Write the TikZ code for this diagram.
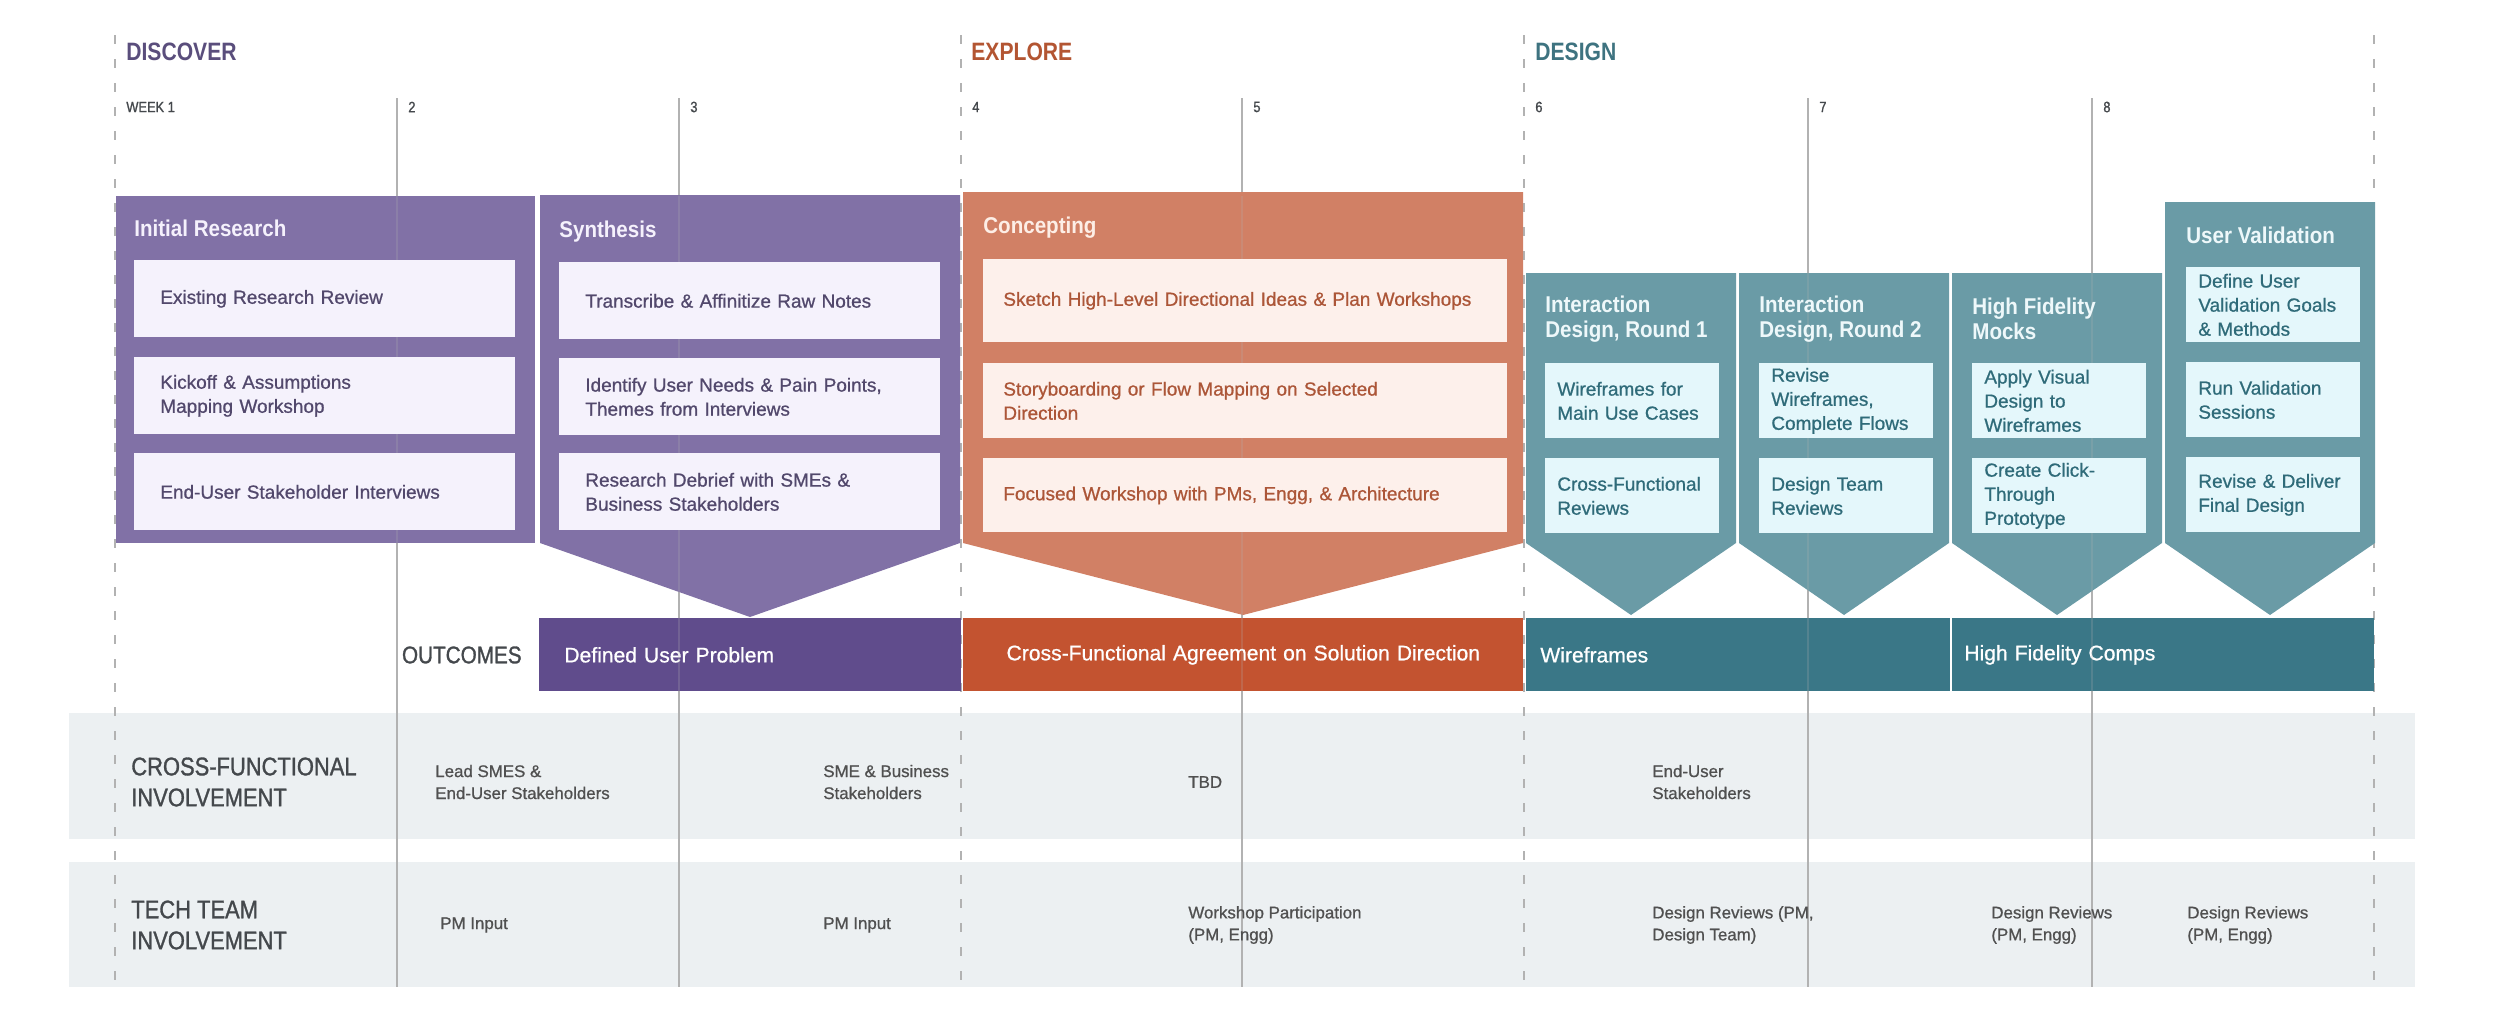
\documentclass[tikz,border=0pt]{standalone}
\usepackage{fontspec}
\setmainfont{Liberation Sans}
\newfontfamily\condfont[FakeStretch=0.86,FakeBold=1.2]{Liberation Sans}
\newfontfamily\headfont[FakeStretch=0.9]{Liberation Sans}
\newfontfamily\phasefont[FakeStretch=0.84]{Liberation Sans}
\newfontfamily\medfont[FakeBold=0.8]{Liberation Sans}
\usepackage{xcolor}
\usepackage{tikz}
\usetikzlibrary{positioning,calc}
\definecolor{discovercolor}{RGB}{90,78,124}
\definecolor{explorecolor}{RGB}{179,85,50}
\definecolor{designcolor}{RGB}{62,115,128}
\definecolor{purplefill}{RGB}{129,113,166}
\definecolor{purplebar}{RGB}{96,76,140}
\definecolor{purplelight}{RGB}{245,242,252}
\definecolor{purpletext}{RGB}{82,72,108}
\definecolor{purpletitle}{RGB}{245,241,252}
\definecolor{orangefill}{RGB}{209,128,101}
\definecolor{orangebar}{RGB}{195,83,48}
\definecolor{orangelight}{RGB}{253,240,235}
\definecolor{orangetext}{RGB}{172,86,56}
\definecolor{orangetitle}{RGB}{253,238,230}
\definecolor{tealfill}{RGB}{106,155,166}
\definecolor{tealbar}{RGB}{58,119,135}
\definecolor{teallight}{RGB}{228,247,251}
\definecolor{tealtext}{RGB}{47,107,121}
\definecolor{tealtitle}{RGB}{238,248,250}
\definecolor{rowgrey}{RGB}{236,240,242}
\definecolor{gridgrey}{RGB}{178,178,178}
\definecolor{labelgrey}{RGB}{68,72,76}
\definecolor{rowtextgrey}{RGB}{80,80,80}

\begin{document}
\begin{tikzpicture}[x=0.2mm,y=-0.2mm,
  phase/.style={anchor=west,inner sep=0pt,font=\phasefont\bfseries\fontsize{14.3}{16}\selectfont},
  week/.style={anchor=west,inner sep=0pt,text=labelgrey,font=\condfont\fontsize{8.5}{10}\selectfont},
  btitle/.style={anchor=west,inner sep=0pt,align=left,font=\headfont\bfseries\fontsize{13}{14.2}\selectfont},
  task/.style={anchor=north west,align=left,inner ysep=0pt,font=\medfont\fontsize{10.8}{13.7}\selectfont},
  ptask/.style={task,fill=purplelight,text=purpletext,inner xsep=5.2mm,text width=65.8mm,minimum height=15.4mm},
  otask/.style={task,fill=orangelight,text=orangetext,inner xsep=4mm,text width=96.8mm},
  ttask/.style={task,fill=teallight,text=tealtext,inner xsep=2.4mm,text width=30mm,minimum height=15mm},
  outbar/.style={anchor=north west,inner ysep=0pt,minimum height=14.6mm,text=white,font=\medfont\fontsize{12}{14}\selectfont},
  rowlbl/.style={anchor=west,inner sep=0pt,align=left,text=labelgrey,font=\condfont\fontsize{14.5}{17.6}\selectfont},
  rowtxt/.style={anchor=west,inner sep=0pt,align=left,text=rowtextgrey,font=\medfont\fontsize{9.6}{12.5}\selectfont},
  gridline/.style={gridgrey,line width=0.35mm},
  griddash/.style={gridline,dash pattern=on 1.8mm off 3mm}]
\useasboundingbox (0,0) rectangle (2500,1026);

% involvement rows
\fill[rowgrey] (69,713) rectangle (2415,839);
\fill[rowgrey] (69,862) rectangle (2415,987);

% week grid
\foreach \x in {115,961,1524,2374} \draw[griddash] (\x,35) -- (\x,987);
\foreach \x in {397,679,1242,1808,2092} \draw[gridline] (\x,98) -- (\x,987);

% phase shapes
\fill[purplefill] (116,196) rectangle (535,543);
\fill[purplefill] (540,195) -- (960,195) -- (960,543) -- (750,617) -- (540,543) -- cycle;
\fill[orangefill] (963,192) -- (1523,192) -- (1523,543) -- (1243,615) -- (963,543) -- cycle;
\foreach \l/\t in {1526/273,1739/273,1952/273,2165/202}
  \fill[tealfill] (\l,\t) -- (\l+210,\t) -- (\l+210,543) -- (\l+105,615) -- (\l,543) -- cycle;

% outcome bars
\node[outbar,fill=purplebar,inner xsep=5mm,text width=74.4mm,align=left](defprob) at (539,618){Defined User Problem};
\node[outbar,fill=orangebar,inner xsep=4mm,text width=104mm,align=center](agree) at (963,618){Cross-Functional Agreement on Solution Direction};
\node[outbar,fill=tealbar,inner xsep=2.8mm,text width=79.2mm,align=left](wires) at (1526,618){Wireframes};
\node[outbar,fill=tealbar,inner xsep=2.4mm,text width=79.6mm,align=left](comps) at (1952,618){High Fidelity Comps};

% grid seen through the shapes
\foreach \x in {397,679,1242,1808,2092} \draw[gridline,opacity=0.22] (\x,196) -- (\x,691);

% phase titles and weeks
\node[phase,text=discovercolor](discover) at (126,52){DISCOVER};
\node[phase,text=explorecolor](explore) at (971,52){EXPLORE};
\node[phase,text=designcolor](design) at (1535,52){DESIGN};
\foreach \x/\w [count=\i] in {126/WEEK 1,408/2,690/3,972/4,1253/5,1535/6,1819/7,2103/8}
  \node[week](wk\i) at (\x,107){\w};

% discover
\node[btitle,text=purpletitle](initres) at (134,228){Initial Research};
\node[ptask](exrev) at (134,260){Existing Research Review};
\node[ptask](kickoff) at (134,357){Kickoff \& Assumptions\\Mapping Workshop};
\node[ptask](interv) at (134,453){End-User Stakeholder Interviews};
\node[btitle,text=purpletitle](synth) at (559,232){Synthesis};
\node[ptask](transc) at (559,262){Transcribe \& Affinitize Raw Notes};
\node[ptask](needs) at (559,358){Identify User Needs \& Pain Points,\\Themes from Interviews};
\node[ptask](debrief) at (559,453){Research Debrief with SMEs \&\\Business Stakeholders};

% explore
\node[btitle,text=orangetitle](concept) at (983,228){Concepting};
\node[otask,minimum height=16.6mm](sketch) at (983,259){Sketch High-Level Directional Ideas \& Plan Workshops};
\node[otask,minimum height=15mm](story) at (983,363){Storyboarding or Flow Mapping on Selected\\Direction};
\node[otask,minimum height=14.8mm](focus) at (983,458){Focused Workshop with PMs, Engg, \& Architecture};

% design
\node[btitle,text=tealtitle](idr1) at (1545,319){Interaction\\Design, Round 1};
\node[ttask](wfmain) at (1545,363){Wireframes for\\Main Use Cases};
\node[ttask](xfrev) at (1545,458){Cross-Functional\\Reviews};
\node[btitle,text=tealtitle](idr2) at (1759,319){Interaction\\Design, Round 2};
\node[ttask](revwf) at (1759,363){Revise\\Wireframes,\\Complete Flows};
\node[ttask](dtrev) at (1759,458){Design Team\\Reviews};
\node[btitle,text=tealtitle](hfm) at (1972,319){High Fidelity\\Mocks};
\node[ttask](visual) at (1972,363){Apply Visual\\Design to\\Wireframes};
\node[ttask](proto) at (1972,458){Create Click-\\Through\\Prototype};
\node[btitle,text=tealtitle](uval) at (2186,235){User Validation};
\node[ttask](goals) at (2186,267){Define User\\Validation Goals\\\& Methods};
\node[ttask](sessions) at (2186,362){Run Validation\\Sessions};
\node[ttask](deliver) at (2186,457){Revise \& Deliver\\Final Design};

% outcomes and involvement
\node[anchor=east,inner sep=0pt,text=labelgrey,font=\condfont\fontsize{13.7}{15}\selectfont](outcomes) at (522,655){OUTCOMES};
\node[rowlbl](xfunc) at (131,782){CROSS-FUNCTIONAL\\INVOLVEMENT};
\node[rowlbl](tech) at (131,925){TECH TEAM\\INVOLVEMENT};
\node[rowtxt](xf1) at (435,782){Lead SMES \&\\End-User Stakeholders};
\node[rowtxt](xf2) at (823,782){SME \& Business\\Stakeholders};
\node[rowtxt](xf3) at (1188,782){TBD};
\node[rowtxt](xf4) at (1652,782){End-User\\Stakeholders};
\node[rowtxt](tt1) at (440,925){PM Input};
\node[rowtxt](tt2) at (823,925){PM Input};
\node[rowtxt](tt3) at (1188,925){Workshop Participation\\(PM, Engg)};
\node[rowtxt](tt4) at (1652,925){Design Reviews (PM,\\Design Team)};
\node[rowtxt](tt5) at (1991,925){Design Reviews\\(PM, Engg)};
\node[rowtxt](tt6) at (2187,925){Design Reviews\\(PM, Engg)};
\end{tikzpicture}
\end{document}
